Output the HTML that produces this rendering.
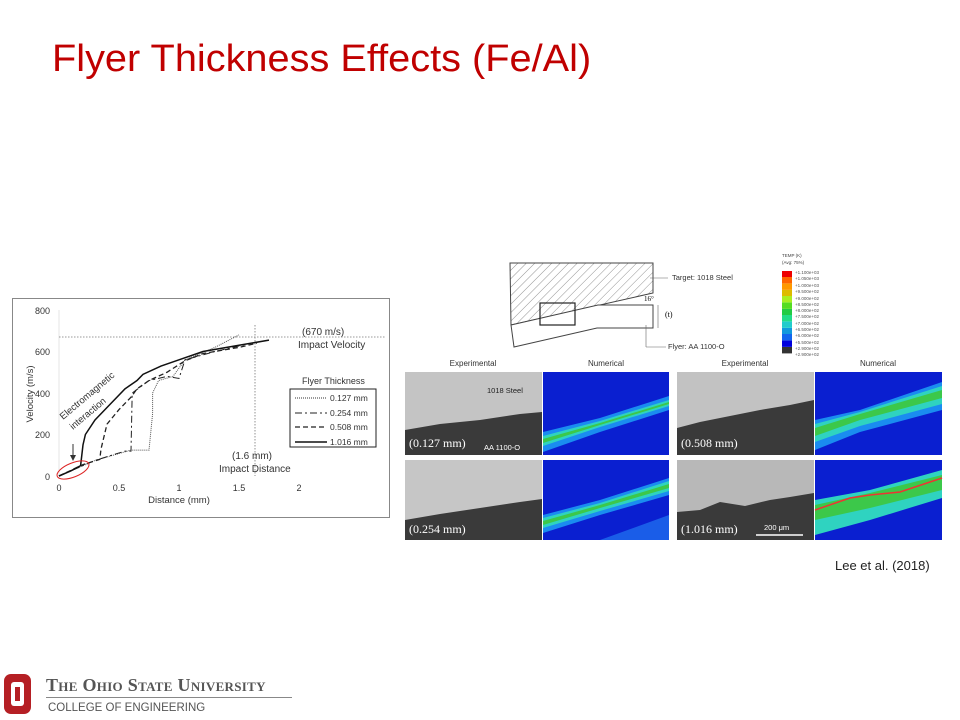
<!DOCTYPE html>
<html><head><meta charset="utf-8"><style>
body{margin:0;width:960px;height:720px;background:#fff;position:relative;overflow:hidden;font-family:"Liberation Sans",sans-serif}
.t{position:absolute;white-space:nowrap}
</style></head><body>
<div class="t" style="left:52px;top:38px;font-size:38px;color:#c00000;transform:scaleX(1.045);transform-origin:left">Flyer Thickness Effects (Fe/Al)</div>

<svg width="960" height="720" style="position:absolute;left:0;top:0" font-family="Liberation Sans, sans-serif">
<rect x="12.5" y="298.5" width="377" height="219" fill="#fff" stroke="#888"/>
<rect x="290" y="389" width="86" height="58" fill="#fff" stroke="#222" stroke-width="1"/>
<g font-size="9" fill="#333">
<text x="50" y="314" text-anchor="end">800</text>
<text x="50" y="355" text-anchor="end">600</text>
<text x="50" y="397" text-anchor="end">400</text>
<text x="50" y="438" text-anchor="end">200</text>
<text x="50" y="480" text-anchor="end">0</text>
<text x="59" y="491" text-anchor="middle">0</text>
<text x="119" y="491" text-anchor="middle">0.5</text>
<text x="179" y="491" text-anchor="middle">1</text>
<text x="239" y="491" text-anchor="middle">1.5</text>
<text x="299" y="491" text-anchor="middle">2</text>
<text x="179" y="503" text-anchor="middle" font-size="9.5">Distance (mm)</text>
<text transform="translate(33,394) rotate(-90)" text-anchor="middle" font-size="9.5">Velocity (m/s)</text>
<text x="302" y="335" font-size="10">(670 m/s)</text>
<text x="298" y="348" font-size="10">Impact Velocity</text>
<text x="232" y="459" font-size="10">(1.6 mm)</text>
<text x="219" y="472" font-size="10">Impact Distance</text>
<text transform="translate(63,420) rotate(-40)" font-size="9.5">Electromagnetic</text>
<text transform="translate(73,430) rotate(-40)" font-size="9.5">interaction</text>
<text x="302" y="384" font-size="9">Flyer Thickness</text>
<text x="330" y="401" font-size="8.5">0.127 mm</text>
<text x="330" y="416" font-size="8.5">0.254 mm</text>
<text x="330" y="430" font-size="8.5">0.508 mm</text>
<text x="330" y="445" font-size="8.5">1.016 mm</text>
</g>
<line x1="59" y1="476" x2="59" y2="310" stroke="#ccc" stroke-width="0.5"/>
<line x1="59" y1="337" x2="385" y2="337" stroke="#777" stroke-dasharray="1.5,1.5" stroke-width="0.8"/>
<line x1="255" y1="325" x2="255" y2="476" stroke="#777" stroke-dasharray="1.5,1.5" stroke-width="0.8"/>
<line x1="295" y1="398" x2="327" y2="398" stroke="#333" stroke-dasharray="1,1"/>
<line x1="295" y1="413" x2="327" y2="413" stroke="#222" stroke-dasharray="7,3,2,3"/>
<line x1="295" y1="427" x2="327" y2="427" stroke="#222" stroke-width="1.3" stroke-dasharray="5,3"/>
<line x1="295" y1="442" x2="327" y2="442" stroke="#111" stroke-width="1.5"/>
<line x1="73" y1="444" x2="73" y2="457" stroke="#333"/><path d="M70,455 L73,461 L76,455Z" fill="#333"/>
<g transform="translate(59,476) scale(120,-0.2075)" fill="none">
<polyline vector-effect="non-scaling-stroke" stroke="#555" stroke-width="1" stroke-dasharray="1,1" points="0,0 0.3,75 0.6,125 0.75,125 0.78,300 0.78,400 0.83,460 0.95,480 1.05,560 1.3,620 1.5,680"/>
<polyline vector-effect="non-scaling-stroke" stroke="#222" stroke-width="1" stroke-dasharray="7,3,2,3" points="0,0 0.3,75 0.55,120 0.6,120 0.61,400 0.75,460 0.9,480 1,470 1.05,560 1.3,600 1.6,640"/>
<polyline vector-effect="non-scaling-stroke" stroke="#222" stroke-width="1.3" stroke-dasharray="5,3" points="0,0 0.2,55 0.34,80 0.35,130 0.4,250 0.5,320 0.6,380 0.65,420 0.75,460 0.9,500 1.05,555 1.2,590 1.5,620 1.65,640"/>
<polyline vector-effect="non-scaling-stroke" stroke="#111" stroke-width="1.5" points="0,0 0.1,25 0.18,50 0.19,100 0.2,150 0.22,200 0.3,270 0.4,330 0.55,420 0.65,460 0.7,490 0.85,530 1,560 1.2,600 1.5,630 1.75,655"/>
</g>
<ellipse cx="73" cy="470" rx="17" ry="7" transform="rotate(-22 73 470)" fill="none" stroke="#d22" stroke-width="1"/>

<defs><pattern id="h" width="6" height="6" patternUnits="userSpaceOnUse" patternTransform="rotate(45)"><line x1="0" y1="0" x2="0" y2="6" stroke="#777" stroke-width="0.8"/></pattern></defs>
<path d="M510,263 L653,263 L653,293 L511,325 Z" fill="url(#h)" stroke="#444"/>
<path d="M511,325 L598,305 L653,305 L653,328 L597,328 L514,347 Z" fill="#fff" stroke="#444"/>
<rect x="540" y="303" width="35" height="22" fill="none" stroke="#222" stroke-width="1.2"/>
<g font-size="7.5" fill="#333"><text x="672" y="280">Target: 1018 Steel</text><text x="668" y="349">Flyer: AA 1100-O</text></g>
<text x="644" y="301" font-size="7" font-family="Liberation Serif,serif">16°</text>
<text x="665" y="317" font-size="8" font-family="Liberation Serif,serif">(t)</text>
<line x1="650" y1="278" x2="668" y2="278" stroke="#666" stroke-width="0.6"/>
<line x1="646" y1="325" x2="646" y2="347" stroke="#666" stroke-width="0.6"/><line x1="646" y1="347" x2="666" y2="347" stroke="#666" stroke-width="0.6"/>
<line x1="658" y1="305" x2="658" y2="328" stroke="#666" stroke-width="0.6"/>
<g font-size="4.5" fill="#444"><text x="782" y="257">TEMP (K)</text><text x="782" y="264">(Avg: 75%)</text></g>
<rect x="782" y="271" width="10" height="6.4" fill="#e00"/><rect x="782" y="277" width="10" height="6.4" fill="#f60"/>
<rect x="782" y="283.5" width="10" height="6.4" fill="#f90"/><rect x="782" y="290" width="10" height="6.4" fill="#db0"/>
<rect x="782" y="296" width="10" height="6.4" fill="#ae2"/><rect x="782" y="302.5" width="10" height="6.4" fill="#5d2"/>
<rect x="782" y="309" width="10" height="6.4" fill="#2c4"/><rect x="782" y="315" width="10" height="6.4" fill="#2d8"/>
<rect x="782" y="321.5" width="10" height="6.4" fill="#2cc"/><rect x="782" y="328" width="10" height="6.4" fill="#19d"/>
<rect x="782" y="334" width="10" height="6.4" fill="#16e"/><rect x="782" y="340.5" width="10" height="6.4" fill="#00d"/>
<rect x="782" y="347" width="10" height="6.4" fill="#333"/>
<g font-size="4.5" fill="#555"><text x="795" y="274">+1.100e+03</text><text x="795" y="280">+1.050e+03</text><text x="795" y="287">+1.000e+03</text><text x="795" y="293">+9.500e+02</text><text x="795" y="300">+9.000e+02</text><text x="795" y="306">+8.500e+02</text><text x="795" y="312">+8.000e+02</text><text x="795" y="318">+7.500e+02</text><text x="795" y="325">+7.000e+02</text><text x="795" y="331">+6.500e+02</text><text x="795" y="337">+6.000e+02</text><text x="795" y="344">+5.500e+02</text><text x="795" y="350">+2.900e+02</text><text x="795" y="356">+2.900e+02</text></g>
<g font-size="8" fill="#333" text-anchor="middle"><text x="473" y="366">Experimental</text><text x="606" y="366">Numerical</text><text x="745" y="366">Experimental</text><text x="878" y="366">Numerical</text></g>
<g>
<rect x="405" y="372" width="137" height="83" fill="#c4c4c4"/><path d="M405,430 L440,424 L480,420 L520,414 L542,412 L542,455 L405,455Z" fill="#3a3a3a"/>
<rect x="677" y="372" width="137" height="83" fill="#c2c2c2"/><path d="M677,428 L700,422 L720,418 L740,414 L760,410 L790,405 L814,400 L814,455 L677,455Z" fill="#3a3a3a"/>
<rect x="405" y="460" width="137" height="80" fill="#c6c6c6"/><path d="M405,520 L440,514 L480,508 L520,502 L542,499 L542,540 L405,540Z" fill="#3a3a3a"/>
<rect x="677" y="460" width="137" height="80" fill="#b8b8b8"/><path d="M677,512 L700,510 L720,502 L745,506 L770,500 L790,497 L814,493 L814,540 L677,540Z" fill="#3a3a3a"/>
</g>
<g font-family="Liberation Serif,serif" font-size="12" fill="#fff"><text x="409" y="447">(0.127 mm)</text><text x="681" y="447">(0.508 mm)</text><text x="409" y="533">(0.254 mm)</text><text x="681" y="533">(1.016 mm)</text></g>
<g font-size="7.5"><text x="487" y="393" fill="#222">1018 Steel</text><text x="484" y="450" fill="#fff">AA 1100-O</text><text x="764" y="530" fill="#fff">200 μm</text><text x="896" y="530" fill="#fff">200 μm</text></g>
<line x1="756" y1="535" x2="803" y2="535" stroke="#fff" stroke-width="1.5"/><line x1="887" y1="535" x2="934" y2="535" stroke="#fff" stroke-width="1.5"/>
<rect x="543" y="372" width="126" height="83" fill="#0a1fd0"/>
<path d="M543,432 L600,418 L669,396 L669,410 L600,432 L543,452Z" fill="#1a8cf0"/><path d="M543,436 L600,421 L669,400 L669,406 L600,427 L543,446Z" fill="#2fd3c0"/><path d="M543,439 L600,423 L669,402 L669,404 L600,425 L543,443Z" fill="#3cc84a"/>
<rect x="815" y="372" width="127" height="83" fill="#0a1fd0"/>
<path d="M815,420 L860,410 L942,382 L942,410 L860,432 L815,450Z" fill="#1a8cf0"/><path d="M815,424 L860,412 L942,386 L942,404 L860,426 L815,442Z" fill="#2fd3c0"/><path d="M815,428 L860,414 L942,390 L942,398 L860,420 L815,436Z" fill="#3cc84a"/>
<rect x="543" y="460" width="126" height="80" fill="#0a1fd0"/><path d="M600,540 L669,515 L669,540Z" fill="#1a5de8"/>
<path d="M543,515 L600,500 L669,478 L669,495 L600,515 L543,533Z" fill="#1a8cf0"/><path d="M543,518 L600,503 L669,481 L669,491 L600,511 L543,528Z" fill="#2fd3c0"/><path d="M543,521 L600,505 L669,484 L669,488 L600,508 L543,525Z" fill="#3cc84a"/>
<rect x="815" y="460" width="127" height="80" fill="#0a1fd0"/>
<path d="M815,500 L870,490 L942,470 L942,498 L870,520 L815,535Z" fill="#2fd3c0"/><path d="M815,505 L870,493 L942,475 L942,490 L870,508 L815,520Z" fill="#3cc84a"/><path d="M815,510 L850,498 L870,495 L900,492 L942,478" fill="none" stroke="#e33" stroke-width="1.5"/>
</svg>

<div class="t" style="left:835px;top:558px;font-size:13px;color:#222">Lee et al. (2018)</div>

<div style="position:absolute;left:4px;top:674px;width:27px;height:40px;background:#b51f24;border-radius:7px"></div>
<div style="position:absolute;left:11px;top:682px;width:13px;height:24px;background:#fff;border-radius:3px"></div>
<div style="position:absolute;left:15px;top:687px;width:5px;height:14px;background:#b51f24"></div>
<div class="t" style="left:46px;top:675px;font-family:'Liberation Serif',serif;font-size:18px;font-weight:bold;color:#555;font-variant:small-caps;letter-spacing:0.3px">The Ohio State University</div>
<div style="position:absolute;left:46px;top:697px;width:246px;height:1px;background:#888"></div>
<div class="t" style="left:48px;top:702px;font-size:11.5px;color:#555">COLLEGE OF ENGINEERING</div>
</body></html>
